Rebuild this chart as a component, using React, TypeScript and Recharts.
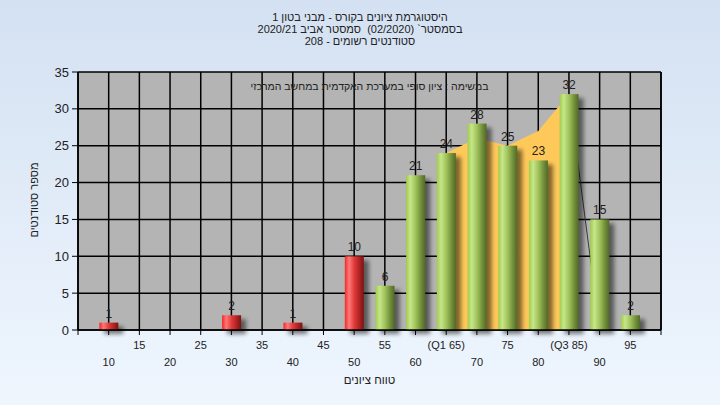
import React from "react";
import { Area, Bar, CartesianGrid, ComposedChart, LabelList, XAxis, YAxis } from "recharts";

const grades = [10, 15, 20, 25, 30, 35, 40, 45, 50, 55, 60, 65, 70, 75, 80, 85, 90, 95];
const counts = [1, 0, 0, 0, 2, 0, 1, 0, 10, 6, 21, 24, 28, 25, 23, 32, 15, 2];
const passGrade = 55;

// band between the quartiles
const iqrGrades = [65, 70, 75, 80, 85];
const iqrValues = [24, 26, 25, 27, 32];
const dropGrades = [85, 90];
const dropValues = [32, 0];

const xTicks = [5, 10, 15, 20, 25, 30, 35, 40, 45, 50, 55, 60, 65, 70, 75, 80, 85, 90, 95, 100];
const yTicks = [0, 5, 10, 15, 20, 25, 30, 35];
const tickNames: Record<number, string> = { 65: "(Q1 65)", 85: "(Q3 85)" };

const titleLines = [
  "היסטוגרמת ציונים בקורס - מבני בטון 1",
  "בסמסטר` (02/2020)  סמסטר אביב 2020/21",
  "סטודנטים רשומים - 208",
];
const subtitle = "במשימה : ציון סופי במערכת האקדמית במחשב המרכזי";
const xLabel = "טווח ציונים";
const yLabel = "מספר סטודנטים";

const font = '"Liberation Sans", Arial, sans-serif';
const ink = "#222";

const data = grades.map((g, i) => {
  const qi = iqrGrades.indexOf(g);
  const di = dropGrades.indexOf(g);
  return {
    x: g,
    count: counts[i],
    iqr: qi >= 0 ? iqrValues[qi] : null,
    drop: di >= 0 ? dropValues[di] : null,
  };
});

function GradeTick(props: any) {
  const { x, payload } = props;
  const v = payload.value;
  if (v === 5 || v === 100) return null;
  const upper = v % 10 === 5;
  return (
    <text x={x} y={upper ? 349 : 366} textAnchor="middle" fontSize={11} fill={ink} fontFamily={font}>
      {tickNames[v] ?? String(v)}
    </text>
  );
}

function BarShape(props: any) {
  const { x, y, width, height, payload } = props;
  if (!height || height <= 0) return null;
  const fill = payload.x < passGrade ? "url(#gRed)" : "url(#gGreen)";
  return (
    <g>
      <rect x={x + 5} y={y + 4} width={width} height={height} fill="#000" opacity={0.5} filter="url(#barShadow)" />
      <rect x={x} y={y} width={width} height={height} fill={fill} />
    </g>
  );
}

const textBox = {
  position: "absolute" as const,
  textAlign: "center" as const,
  direction: "rtl" as const,
  whiteSpace: "pre" as const,
};

export default function App() {
  return (
    <div
      style={{
        position: "absolute",
        left: 0,
        top: 0,
        width: 720,
        height: 405,
        background: "linear-gradient(#d4e1f2, #eff6fe)",
        fontFamily: font,
        color: ink,
      }}
    >
      <ComposedChart width={720} height={405} data={data} margin={{ top: 72, right: 0, bottom: 0, left: 0 }}>
        <defs>
          <linearGradient id="gGreen" x1="0" y1="0" x2="1" y2="0">
            <stop offset="0%" stopColor="#a2cc4a" />
            <stop offset="22%" stopColor="#c6e68a" />
            <stop offset="50%" stopColor="#a0c25a" />
            <stop offset="80%" stopColor="#6d8a38" />
            <stop offset="100%" stopColor="#516a26" />
          </linearGradient>
          <linearGradient id="gRed" x1="0" y1="0" x2="1" y2="0">
            <stop offset="0%" stopColor="#f22626" />
            <stop offset="22%" stopColor="#ff7878" />
            <stop offset="50%" stopColor="#e03a3a" />
            <stop offset="80%" stopColor="#a82020" />
            <stop offset="100%" stopColor="#7a1212" />
          </linearGradient>
          <filter id="barShadow" x="-50%" y="-50%" width="200%" height="200%">
            <feGaussianBlur stdDeviation="2" />
          </filter>
        </defs>
        <CartesianGrid stroke="#000" strokeWidth={1.5} fill="#b4b4b4" fillOpacity={1} />
        <XAxis
          dataKey="x"
          type="number"
          domain={[5, 100]}
          ticks={xTicks}
          interval={0}
          height={75}
          tickSize={5}
          tick={<GradeTick />}
          axisLine={{ stroke: "#000", strokeWidth: 1.5 }}
          tickLine={{ stroke: "#000" }}
        />
        <YAxis
          domain={[0, 35]}
          ticks={yTicks}
          width={78}
          tickSize={6}
          tickMargin={3}
          tick={{ fill: ink, fontSize: 13, fontFamily: font }}
          axisLine={{ stroke: "#000", strokeWidth: 1.5 }}
          tickLine={{ stroke: "#000" }}
        />
        <YAxis
          yAxisId="r"
          orientation="right"
          domain={[0, 35]}
          ticks={yTicks}
          width={59}
          tickSize={7}
          tickMargin={2}
          tick={{ fill: ink, fontSize: 13, fontFamily: font }}
          axisLine={{ stroke: "#000", strokeWidth: 1.5 }}
          tickLine={{ stroke: "#000" }}
        />
        <Area
          dataKey="iqr"
          type="linear"
          fill="#ffc95a"
          fillOpacity={1}
          stroke="none"
          isAnimationActive={false}
        />
        <Area
          dataKey="drop"
          type="linear"
          fill="none"
          stroke="#3a3a3a"
          strokeWidth={1}
          dot={false}
          activeDot={false}
          isAnimationActive={false}
        />
        <Bar dataKey="count" barSize={19} shape={<BarShape />} isAnimationActive={false}>
          <LabelList
            dataKey="count"
            position="top"
            offset={5}
            fill={ink}
            fontSize={12}
            fontFamily={font}
            formatter={(v: any) => (v ? v : "")}
          />
        </Bar>
      </ComposedChart>

      {titleLines.map((t, i) => (
        <div
          key={i}
          style={{ ...textBox, left: 0, width: 720, top: 12 + i * 12, fontSize: 11, lineHeight: "11px" }}
        >
          {t}
        </div>
      ))}
      <div style={{ ...textBox, left: 78, width: 583, top: 79, fontSize: 10.5, lineHeight: "14px" }}>
        {subtitle}
      </div>
      <div style={{ ...textBox, left: 78, width: 583, top: 373, fontSize: 11.5, lineHeight: "14px" }}>
        {xLabel}
      </div>
      <div
        style={{
          ...textBox,
          left: 34 - 50,
          top: 200 - 7,
          width: 100,
          fontSize: 11,
          lineHeight: "14px",
          transform: "rotate(-90deg)",
        }}
      >
        {yLabel}
      </div>
    </div>
  );
}
